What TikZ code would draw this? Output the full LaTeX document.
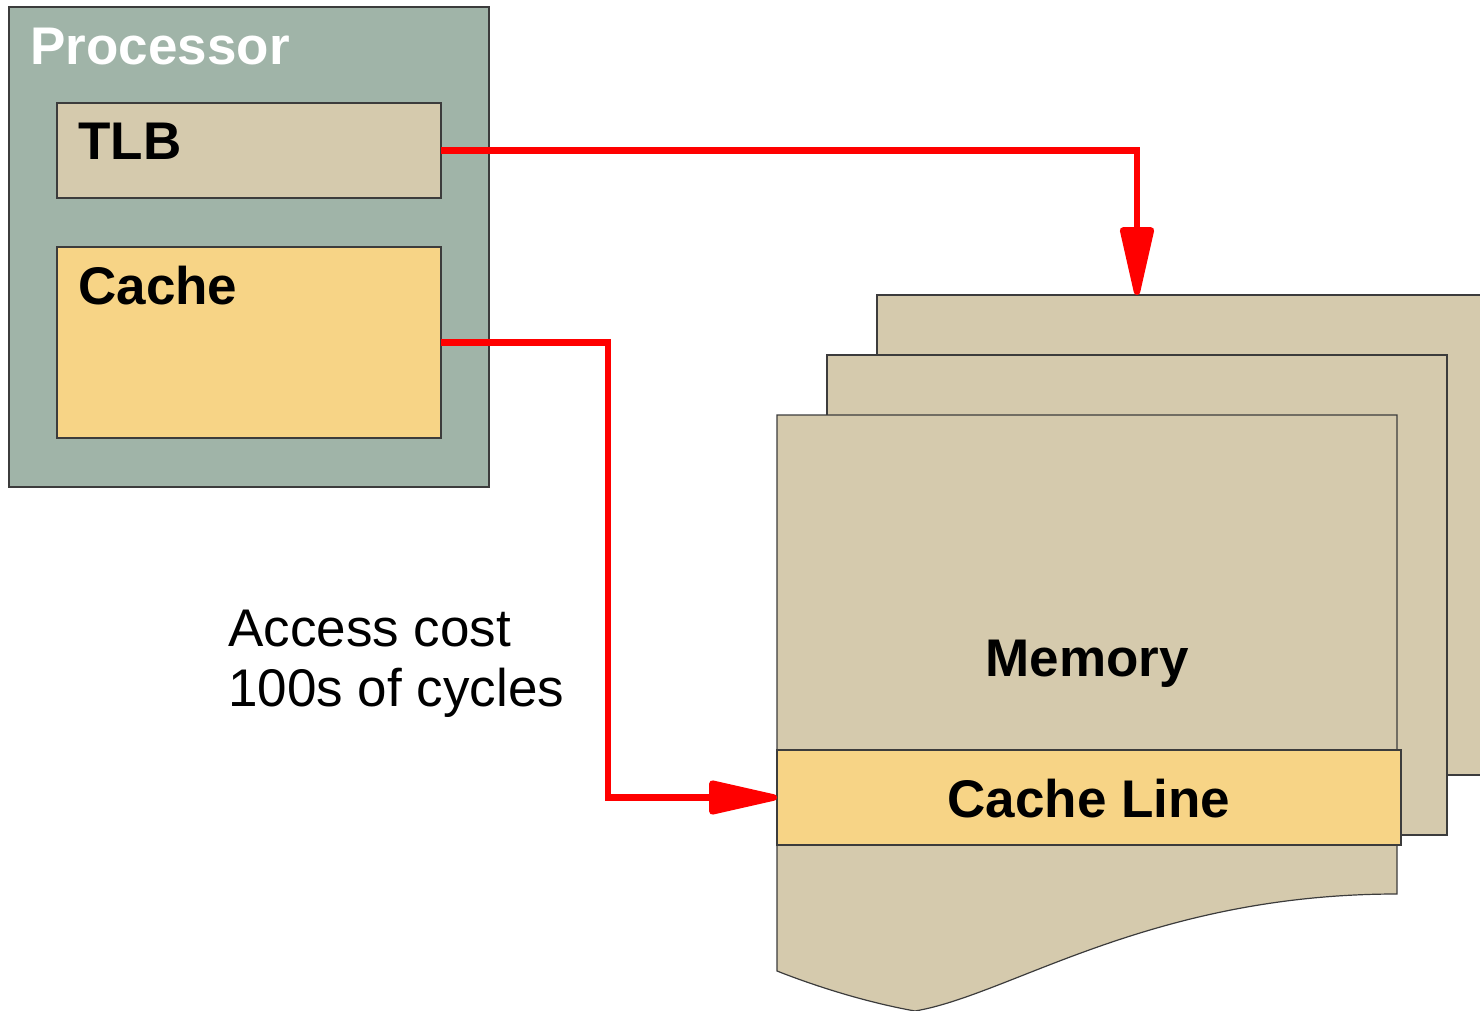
\documentclass[tikz,border=0pt]{standalone}
\usepackage{fontspec}
\setmainfont{Liberation Sans}
\usetikzlibrary{arrows.meta}
\definecolor{procgray}{RGB}{160,180,168}
\definecolor{paper}{RGB}{213,202,173}
\definecolor{gold}{RGB}{247,212,134}
\definecolor{edge}{RGB}{60,60,60}

\begin{document}
\begin{tikzpicture}[x=0.5pt,y=-0.5pt,
  box/.style={draw=edge,line width=0.6pt,inner sep=0pt,outer sep=0pt,anchor=north west},
  bigbold/.style={font=\fontsize{26.5}{30}\selectfont\bfseries,inner sep=0pt},
  plain/.style={font=\fontsize{26.5}{30}\selectfont,inner sep=0pt,align=left},
  link/.style={draw=red,line width=3.2pt,
    -{Triangle[length=40pt,width=17pt,round]}}
]
\clip (0,0) rectangle (1480,1011);

% processor with its two units
\node[box,fill=procgray,minimum width=240pt,minimum height=240pt] (proc) at (9,7) {};
\node[bigbold,text=white,anchor=base west] (proctext) at (30,65) {Processor};
\node[box,fill=paper,minimum width=192pt,minimum height=47.5pt] (tlb) at (57,103) {};
\node[bigbold,anchor=base west] (tlbtext) at (78,160) {TLB};
\node[box,fill=gold,minimum width=192pt,minimum height=95.5pt] (cache) at (57,247) {};
\node[bigbold,anchor=base west] (cachetext) at (78,305) {Cache};

% stacked memory pages
\node[box,fill=paper,minimum width=320pt,minimum height=240pt] (page3) at (877,295) {};
\node[box,fill=paper,minimum width=310pt,minimum height=240pt] (page2) at (827,355) {};
\path[draw=edge,line width=0.6pt,fill=paper]
  (777,415) -- (1397,415) -- (1397,894)
  .. controls (1150,894) and (1010,995) .. (915,1011)
  .. controls (870,1003) and (820,988) .. (777,971) -- cycle;
\node[bigbold,anchor=base] (memtext) at (1087,676) {Memory};
\node[box,fill=gold,minimum width=312pt,minimum height=47.5pt] (line) at (777,750) {};
\node[bigbold,anchor=base] (linetext) at (1089,817) {Cache Line};

% access annotation
\node[plain,anchor=base west] (cost) at (228,706) {Access cost\\100s of cycles};

% connectors
\coordinate (tlbtarget) at (1137,295);
\coordinate (drop) at (608,0);
\draw[link] (tlb.east) -| (tlbtarget);
\draw[link] (cache.east) -- (cache.east -| drop) |- (line.west);
\end{tikzpicture}
\end{document}
